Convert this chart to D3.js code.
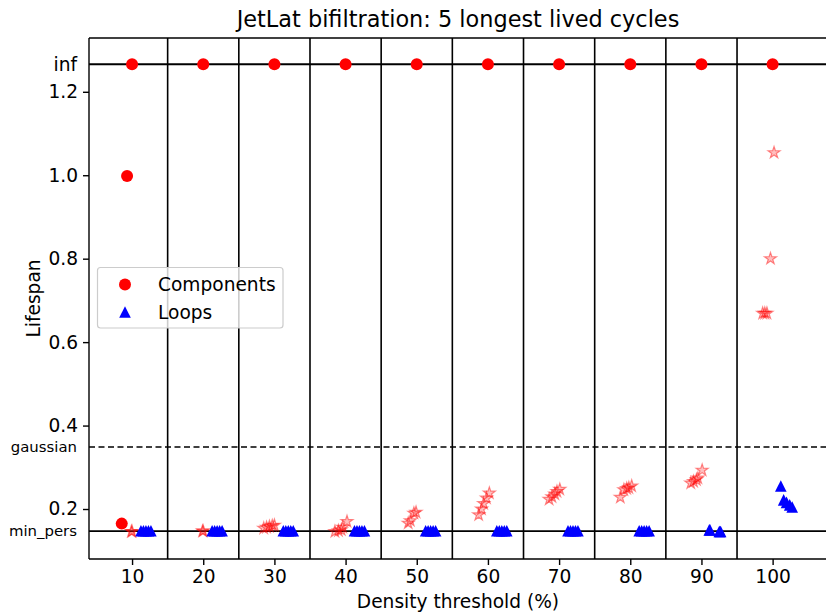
<!DOCTYPE html>
<html>
<head>
<meta charset="utf-8">
<script src="https://cdn.jsdelivr.net/npm/d3@7"></script>
<style>
  html, body { margin: 0; padding: 0; background: #fff; }
  svg { display: block; font-family: "DejaVu Sans", sans-serif; }
</style>
</head>
<body>
<svg id="chart" width="826" height="612"></svg>
<script>
// ---------------- data ----------------
const thresholds = [10, 20, 30, 40, 50, 60, 70, 80, 90, 100];
const separators = [15, 25, 35, 45, 55, 65, 75, 85, 95];
const xTicks = [10, 20, 30, 40, 50, 60, 70, 80, 90, 100];
const yTicks = [0.2, 0.4, 0.6, 0.8, 1.0, 1.2];
const INF = 1.266;
const GAUSSIAN = 0.3485;
const MIN_PERS = 0.147;
const specialTicks = [
  {label: "inf", value: INF, small: false},
  {label: "gaussian", value: GAUSSIAN, small: true},
  {label: "min_pers", value: MIN_PERS, small: true}
];

// Components (red circles)
const compX = [10, 20, 30, 40, 50, 60, 70, 80, 90, 100, 9.3, 8.55];
const compY = [INF, INF, INF, INF, INF, INF, INF, INF, INF, INF, 0.998, 0.165];

// Loops (blue triangles)
const loopX = [
  11.25, 11.6, 11.95, 12.3, 12.65,
  21.25, 21.6, 21.95, 22.3, 22.65,
  31.25, 31.6, 31.95, 32.3, 32.65,
  41.25, 41.6, 41.95, 42.3, 42.65,
  51.25, 51.6, 51.95, 52.3, 52.65,
  61.25, 61.6, 61.95, 62.3, 62.65,
  71.25, 71.6, 71.95, 72.3, 72.65,
  81.25, 81.6, 81.95, 82.3, 82.65,
  91.1, 91.2, 92.5, 92.6, 92.7,
  101.15, 101.55, 101.95, 102.4, 102.75
];
const loopY = [
  0.148, 0.148, 0.148, 0.148, 0.148,
  0.148, 0.148, 0.148, 0.148, 0.148,
  0.148, 0.148, 0.148, 0.148, 0.148,
  0.148, 0.148, 0.148, 0.148, 0.148,
  0.148, 0.148, 0.148, 0.148, 0.148,
  0.148, 0.148, 0.148, 0.148, 0.148,
  0.148, 0.148, 0.148, 0.148, 0.148,
  0.148, 0.148, 0.148, 0.148, 0.148,
  0.150, 0.150, 0.146, 0.146, 0.146,
  0.255, 0.222, 0.216, 0.210, 0.205
];

// faint red stars (no legend entry)
const starX = [
  9.9, 10.0,
  19.9, 20.0,
  28.5, 28.9, 29.3, 29.7, 30.0,
  38.5, 39.0, 39.4, 39.6, 40.2,
  48.8, 49.1, 49.6, 49.9,
  58.7, 59.1, 59.4, 59.8, 60.2,
  68.6, 69.0, 69.4, 69.7, 70.1,
  78.6, 79.1, 79.5, 79.8, 80.2,
  88.5, 88.9, 89.3, 89.5, 90.1,
  100.2, 99.7, 98.6, 99.2, 98.9
];
const starY = [
  0.146, 0.146,
  0.147, 0.147,
  0.154, 0.156, 0.158, 0.160, 0.161,
  0.146, 0.148, 0.150, 0.156, 0.170,
  0.166, 0.172, 0.190, 0.192,
  0.186, 0.200, 0.213, 0.226, 0.238,
  0.223, 0.229, 0.236, 0.242, 0.247,
  0.228, 0.246, 0.249, 0.251, 0.255,
  0.262, 0.266, 0.270, 0.274, 0.293,
  1.054, 0.800, 0.669, 0.669, 0.669
];

// ---------------- layout ----------------
const svg = d3.select("#chart");
const L = 89, R = 826, T = 38, B = 559;
const x = d3.scaleLinear().domain([3.95, 107.5]).range([L, R]);
const y = d3.scaleLinear().domain([0.0802, 1.3289]).range([B, T]);

svg.append("defs").append("clipPath").attr("id", "clip")
  .append("rect").attr("x", L).attr("y", T).attr("width", R - L).attr("height", B - T);

const plot = svg.append("g").attr("clip-path", "url(#clip)");

// vertical separators
plot.selectAll("line.sep").data(separators).enter().append("line")
  .attr("x1", d => x(d)).attr("x2", d => x(d))
  .attr("y1", T).attr("y2", B)
  .attr("stroke", "#000").attr("stroke-width", 1.6);

// horizontal reference lines
plot.append("line").attr("x1", L).attr("x2", R).attr("y1", y(INF)).attr("y2", y(INF))
  .attr("stroke", "#000").attr("stroke-width", 2.2);
plot.append("line").attr("x1", L).attr("x2", R).attr("y1", y(GAUSSIAN)).attr("y2", y(GAUSSIAN))
  .attr("stroke", "#000").attr("stroke-width", 1.6).attr("stroke-dasharray", "6,3.5");
plot.append("line").attr("x1", L).attr("x2", R).attr("y1", y(MIN_PERS)).attr("y2", y(MIN_PERS))
  .attr("stroke", "#000").attr("stroke-width", 1.6);

// star path
function starPath(ro) {
  const ri = ro * 0.381966;
  const pts = [];
  for (let i = 0; i < 10; i++) {
    const r = i % 2 === 0 ? ro : ri;
    const a = -Math.PI / 2 + i * Math.PI / 5;
    pts.push([r * Math.cos(a), r * Math.sin(a)]);
  }
  return "M" + pts.map(p => p[0].toFixed(2) + "," + p[1].toFixed(2)).join("L") + "Z";
}
const triPath = s => `M0,${-s}L${-s},${s}L${s},${s}Z`;

// stars
plot.selectAll("path.star").data(d3.range(starX.length)).enter().append("path")
  .attr("d", starPath(6.3))
  .attr("transform", i => `translate(${x(starX[i])},${y(starY[i])})`)
  .attr("fill", "red").attr("fill-opacity", 0.25)
  .attr("stroke", "red").attr("stroke-opacity", 0.45).attr("stroke-width", 1.2);

// components
plot.selectAll("circle.comp").data(d3.range(compX.length)).enter().append("circle")
  .attr("cx", i => x(compX[i])).attr("cy", i => y(compY[i])).attr("r", 6)
  .attr("fill", "red");

// loops
plot.selectAll("path.loop").data(d3.range(loopX.length)).enter().append("path")
  .attr("d", triPath(5.8))
  .attr("transform", i => `translate(${x(loopX[i])},${y(loopY[i])})`)
  .attr("fill", "blue");

// spines (right spine falls outside the picture)
const spines = svg.append("g").attr("stroke", "#000").attr("stroke-width", 1.4);
spines.append("line").attr("x1", L).attr("x2", L).attr("y1", T).attr("y2", B);
spines.append("line").attr("x1", L).attr("x2", R).attr("y1", T).attr("y2", T);
spines.append("line").attr("x1", L).attr("x2", R).attr("y1", B).attr("y2", B);

// axes
const xAxis = d3.axisBottom(x).tickValues(xTicks).tickSize(6).tickPadding(5).tickFormat(d3.format("d"));
const gx = svg.append("g").attr("transform", `translate(0,${B})`).call(xAxis);
gx.select(".domain").remove();
gx.selectAll("line").attr("stroke-width", 1.4);
gx.selectAll("text").attr("font-size", 18.6).attr("fill", "#000").attr("font-family", "DejaVu Sans");

const yAxis = d3.axisLeft(y).tickValues(yTicks).tickSize(6).tickPadding(5).tickFormat(d3.format(".1f"));
const gy = svg.append("g").attr("transform", `translate(${L},0)`).call(yAxis);
gy.select(".domain").remove();
gy.selectAll("line").attr("stroke-width", 1.4);
gy.selectAll("text").attr("font-size", 18.6).attr("fill", "#000").attr("font-family", "DejaVu Sans");

// special y labels
svg.append("g").selectAll("text").data(specialTicks).enter().append("text")
  .attr("x", L - 12).attr("y", d => y(d.value))
  .attr("dy", "0.35em").attr("text-anchor", "end")
  .attr("font-size", d => d.small ? 14.9 : 18.6).attr("fill", "#000")
  .text(d => d.label);

// titles
svg.append("text").attr("x", 458).attr("y", 27).attr("text-anchor", "middle")
  .attr("font-size", 22.4).attr("fill", "#000").text("JetLat bifiltration: 5 longest lived cycles");
svg.append("text").attr("x", 458).attr("y", 608).attr("text-anchor", "middle")
  .attr("font-size", 18.6).attr("fill", "#000").text("Density threshold (%)");
svg.append("text").attr("transform", `translate(40,${(T + B) / 2}) rotate(-90)`)
  .attr("text-anchor", "middle").attr("font-size", 18.6).attr("fill", "#000").text("Lifespan");

// legend
const lg = svg.append("g");
lg.append("rect").attr("x", 97.5).attr("y", 267.5).attr("width", 185.5).attr("height", 60.5)
  .attr("rx", 3).attr("fill", "#fff").attr("fill-opacity", 0.8)
  .attr("stroke", "#ccc").attr("stroke-width", 1.2);
lg.append("circle").attr("cx", 125).attr("cy", 284.5).attr("r", 6).attr("fill", "red");
lg.append("path").attr("d", triPath(5.8)).attr("transform", "translate(125,312)").attr("fill", "blue");
lg.append("text").attr("x", 158).attr("y", 284.5).attr("dy", "0.35em").attr("font-size", 18.6).text("Components");
lg.append("text").attr("x", 158).attr("y", 312).attr("dy", "0.35em").attr("font-size", 18.6).text("Loops");
</script>
</body>
</html>
